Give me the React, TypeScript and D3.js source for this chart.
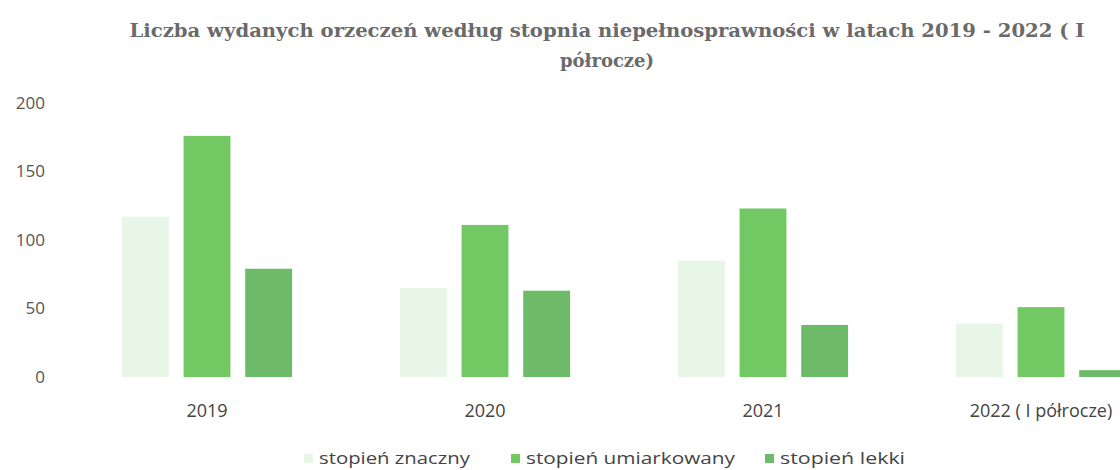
import React from "react";
import * as d3 from "d3";

const categories = ["2019", "2020", "2021", "2022 ( I półrocze)"];
const seriesNames = ["stopień znaczny", "stopień umiarkowany", "stopień lekki"];
const znaczny = [117, 65, 85, 39];
const umiarkowany = [176, 111, 123, 51];
const lekki = [79, 63, 38, 5];
const yTicks = [0, 50, 100, 150, 200];
const colors = ["#e8f6e8", "#72c863", "#6dbb68"];
const titleLine1 = "Liczba wydanych orzeczeń według stopnia niepełnosprawności w latach 2019 - 2022 ( I";
const titleLine2 = "półrocze)";

export default function App() {
  const W = 1120;
  const H = 470;
  const series = [znaczny, umiarkowany, lekki];
  const x = d3.scaleBand<string>().domain(categories).range([68, 1180]).paddingInner(0.388).paddingOuter(0.194);
  const x1 = d3.scaleBand<number>().domain([0, 1, 2]).range([0, x.bandwidth()]).paddingInner(0.24);
  const y = d3.scaleLinear().domain([0, 200]).range([377, 103]);
  const sans = "'Open Sans', 'DejaVu Sans', sans-serif";
  const legendItems = [
    { x: 304, w: 166 },
    { x: 511, w: 224 },
    { x: 765, w: 140 },
  ];
  return (
    <svg width={W} height={H} style={{ position: "absolute", left: 0, top: 0, background: "#fff" }}>
      <text x={607} y={37} textAnchor="middle" fontFamily="'DejaVu Serif', serif" fontSize={18} fontWeight="bold" fill="#6a6a6a" textLength={955} lengthAdjust="spacingAndGlyphs">
        {titleLine1}
      </text>
      <text x={607} y={67} textAnchor="middle" fontFamily="'DejaVu Serif', serif" fontSize={18} fontWeight="bold" fill="#6a6a6a">
        {titleLine2}
      </text>
      {yTicks.map((t) => (
        <text key={t} x={45} y={y(t)} dy="0.35em" textAnchor="end" fontFamily={sans} fontSize={17} fill="#555">
          {t}
        </text>
      ))}
      {categories.map((c, ci) => (
        <g key={c} transform={`translate(${x(c)},0)`}>
          {series.map((s, si) => (
            <rect key={si} x={x1(si)} y={y(s[ci])} width={x1.bandwidth()} height={y(0) - y(s[ci])} fill={colors[si]} />
          ))}
          <text x={x.bandwidth() / 2} y={417} textAnchor="middle" fontFamily={sans} fontSize={18} fill="#444">
            {c}
          </text>
        </g>
      ))}
      {seriesNames.map((n, i) => (
        <g key={n}>
          <rect x={legendItems[i].x} y={454} width={9} height={9} fill={colors[i]} />
          <text x={legendItems[i].x + 15} y={464} fontFamily={sans} fontSize={16} fill="#444" textLength={legendItems[i].w - 15} lengthAdjust="spacingAndGlyphs">
            {n}
          </text>
        </g>
      ))}
    </svg>
  );
}
